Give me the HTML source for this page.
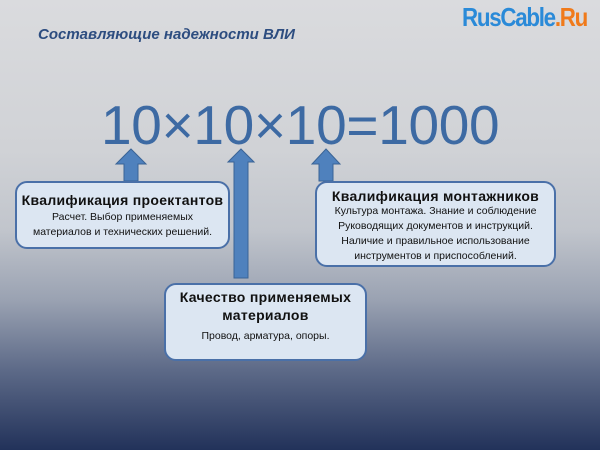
<!DOCTYPE html>
<html><head><meta charset="utf-8"><style>
body{margin:0;width:600px;height:450px;overflow:hidden;font-family:"Liberation Sans",sans-serif;
background:linear-gradient(to bottom,#dadbde 0px,#d0d2d6 150px,#c1c5cc 230px,#9aa2b2 300px,#5d6a88 370px,#22325a 450px);position:relative}
.a{position:absolute}
.box{position:absolute;background:#dce6f2;border:2px solid #4a70a8;border-radius:12px;box-sizing:border-box;text-align:center;color:#111}
.box b{display:block;font-size:14px;letter-spacing:0.3px}
.box span{display:block;font-size:10.5px;line-height:15px}
</style></head><body>
<div class="a" style="left:38px;top:26px;font-size:15px;font-weight:bold;font-style:italic;color:#2d4d80">Составляющие надежности ВЛИ</div>
<div class="a" style="left:462px;top:2px;font-size:26px;font-weight:bold;color:#2a8ad8;letter-spacing:-1.5px;transform:scaleX(0.86);transform-origin:left">RusCable<span style="color:#f07a1a">.Ru</span></div>
<div class="a" style="left:101px;top:93px;font-size:55px;color:#3d6aa3;letter-spacing:-0.3px">10×10×10=1000</div>
<svg class="a" style="left:0;top:0" width="600" height="450">
<g fill="#4f81bd" stroke="#3a6496" stroke-width="1">
<polygon points="131,149 146,164 138,164 138,181 124,181 124,164 116,164"/>
<polygon points="241,149 254,162 248,162 248,278 234,278 234,162 228,162"/>
<polygon points="326,149 340,164 333,164 333,181 319,181 319,164 312,164"/>
</g></svg>
<div class="box" style="left:15px;top:181px;width:215px;height:68px;padding-top:9px">
<b>Квалификация проектантов</b><span style="margin-top:2px">Расчет. Выбор применяемых<br>материалов и технических решений.</span></div>
<div class="box" style="left:315px;top:181px;width:241px;height:86px;padding-top:5px">
<b>Квалификация монтажников</b><span>Культура монтажа. Знание и соблюдение<br>Руководящих документов и инструкций.<br>Наличие и правильное использование<br>инструментов и приспособлений.</span></div>
<div class="box" style="left:164px;top:283px;width:203px;height:78px;padding-top:3px">
<b style="line-height:18px">Качество применяемых<br>материалов</b><span style="margin-top:5px">Провод, арматура, опоры.</span></div>
</body></html>
